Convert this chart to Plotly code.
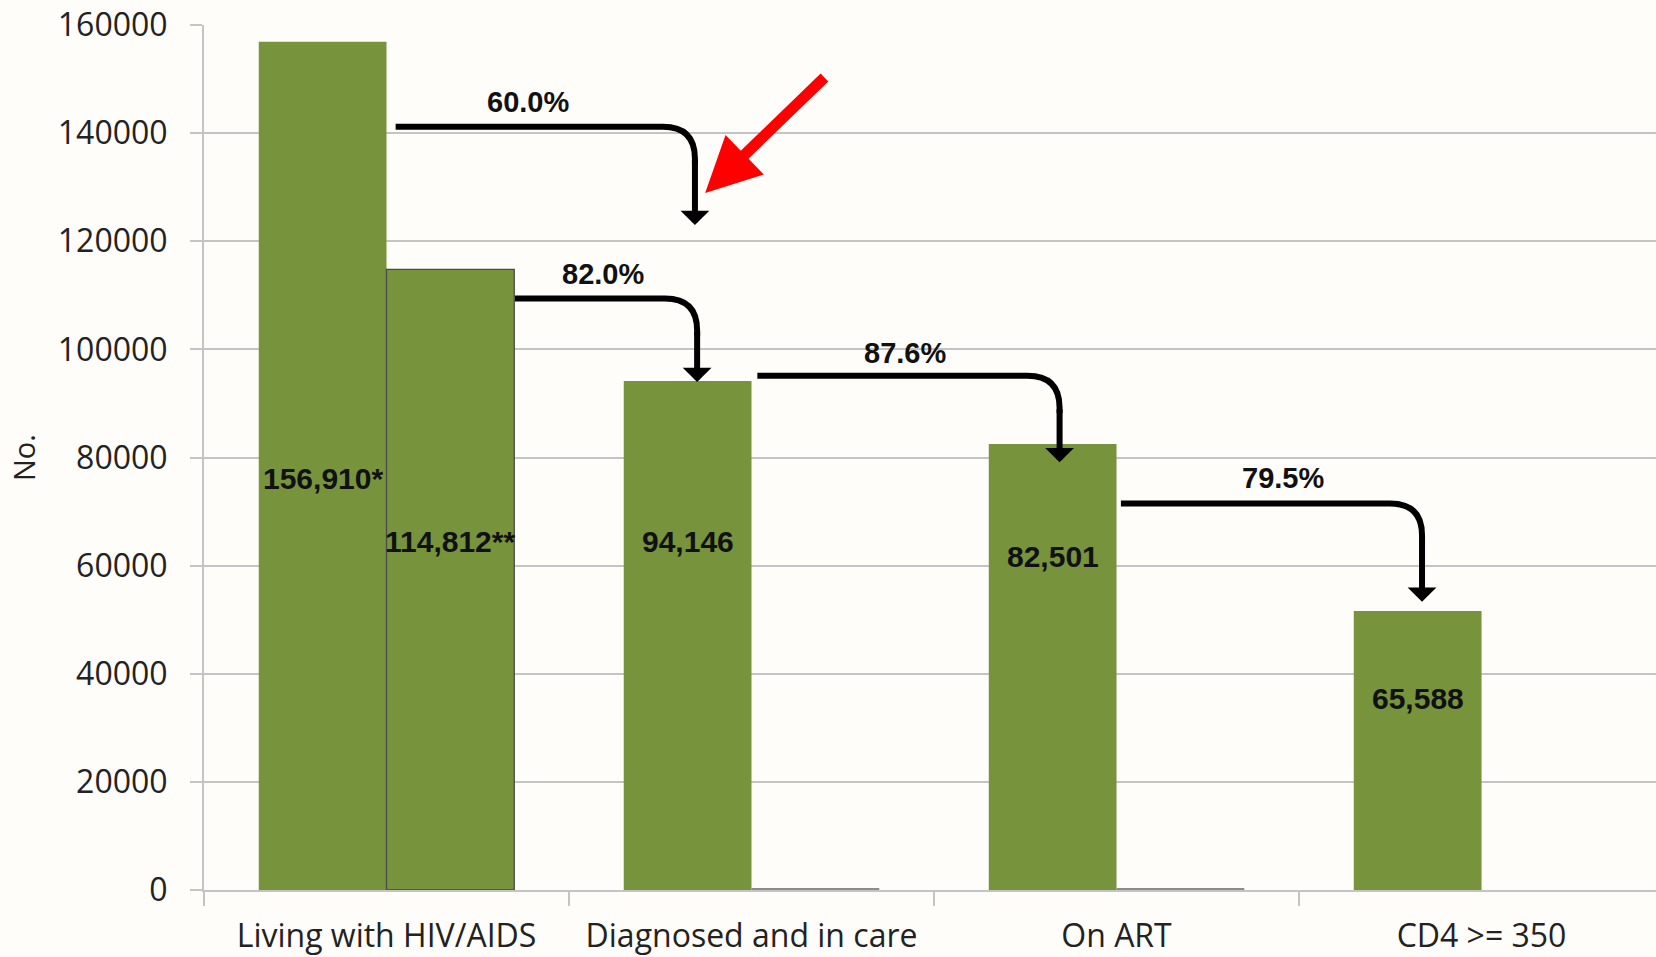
import plotly.graph_objects as go

GREEN = "#77933C"
BG = "#FFFDFA"
GRID = "#C4C4C4"

categories = ["Living with HIV/AIDS", "Diagnosed and in care", "On ART", "CD4 >= 350"]
series_a = [156910, 94146, 82501, 51600]
series_b = [114812, 350, 350, 0]
labels_a = ["156,910*", "94,146", "82,501", "65,588"]
labels_b = ["114,812**", "", "", ""]
percents = ["60.0%", "82.0%", "87.6%", "79.5%"]

# layout helpers (annotation placement, not data)
label_y_a = [76200, 64400, 61700, 35500]
label_y_b = [64400, None, None, None]
# (x start, level, x end, tip) for each elbow arrow
arrows = [
    (0.025, 141200, 0.845, 123000),
    (0.352, 109400, 0.851, 93950),
    (1.016, 95100, 1.844, 79100),
    (2.012, 71500, 2.837, 53300),
]
pct_pos = [(0.389, 145700), (0.594, 113870), (1.420, 99410), (2.456, 76170)]

fig = go.Figure()
fig.add_trace(go.Bar(
    x=categories, y=series_a, marker=dict(color=GREEN, line=dict(width=0)),
    hoverinfo="y", showlegend=False,
))
fig.add_trace(go.Bar(
    x=categories, y=series_b,
    marker=dict(color=[GREEN, "#8C8C8C", "#8C8C8C", GREEN],
                line=dict(color="#4A4A4A", width=[1.3, 0, 0, 0])),
    hoverinfo="y", showlegend=False,
))

lab_font = dict(family="Liberation Sans, Arial", size=30, color="#111111")
pct_font = dict(family="Liberation Sans, Arial", size=29, color="#111111")
for i, (t, y) in enumerate(zip(labels_a, label_y_a)):
    fig.add_annotation(x=i - 0.175, y=y, text=f"<b>{t}</b>", showarrow=False, font=lab_font)
for i, (t, y) in enumerate(zip(labels_b, label_y_b)):
    if t:
        fig.add_annotation(x=i + 0.175, y=y, text=f"<b>{t}</b>", showarrow=False, font=lab_font)

rx, ry = 0.088, 5900
for (x0, lvl, x1, tip), (px_, py_), p in zip(arrows, pct_pos, percents):
    fig.add_shape(
        type="path", xref="x", yref="y",
        path=f"M {x0},{lvl} L {x1 - rx},{lvl} Q {x1},{lvl} {x1},{lvl - ry} L {x1},{lvl - ry - 1000}",
        line=dict(color="black", width=6),
    )
    fig.add_annotation(
        x=x1, y=tip, ax=x1, ay=lvl - ry, axref="x", ayref="y", xref="x", yref="y",
        text="", showarrow=True, arrowhead=1, arrowsize=0.8, arrowwidth=6, arrowcolor="black",
    )
    fig.add_annotation(x=px_, y=py_, text=f"<b>{p}</b>", showarrow=False, font=pct_font)

# red pointer
fig.add_annotation(
    x=0.873, y=128930, ax=1.204, ay=150570, axref="x", ayref="y", xref="x", yref="y",
    text="", showarrow=True, arrowhead=2, arrowsize=1, arrowwidth=11, arrowcolor="#FF0000",
)

fig.update_layout(
    width=1656, height=957,
    paper_bgcolor=BG, plot_bgcolor=BG,
    barmode="group", bargap=0.3, bargroupgap=0,
    margin=dict(l=204, r=0, t=25, b=67),
    font=dict(family="Open Sans, sans-serif", color="#222222"),
    xaxis=dict(
        type="category", range=[-0.5, 3.478], tickson="boundaries",
        ticks="outside", ticklen=14, tickcolor=GRID, tickwidth=1.5,
        showline=True, linecolor=GRID, linewidth=2,
        tickfont=dict(size=32, family="Open Sans, sans-serif", color="#222222"),
        ticklabelstandoff=17, automargin=False,
        showgrid=False,
    ),
    yaxis=dict(
        range=[0, 160000], dtick=20000, tickformat="d",
        showgrid=True, gridcolor=GRID, gridwidth=1.5,
        ticks="outside", ticklen=12, tickcolor=GRID, tickwidth=1.5,
        showline=True, linecolor=GRID, linewidth=2,
        tickfont=dict(size=32, family="Open Sans, sans-serif", color="#222222"),
        ticklabelstandoff=16, ticklabeloverflow="allow", automargin=False,
        title=dict(text="No.", font=dict(size=29, family="Open Sans, sans-serif"), standoff=14),
        zeroline=False,
    ),
)

# page margin off so the figure fills the window like the original image
fig.write_html("out.html", config={"displayModeBar": False},
               post_script="document.body.style.margin='0';")
